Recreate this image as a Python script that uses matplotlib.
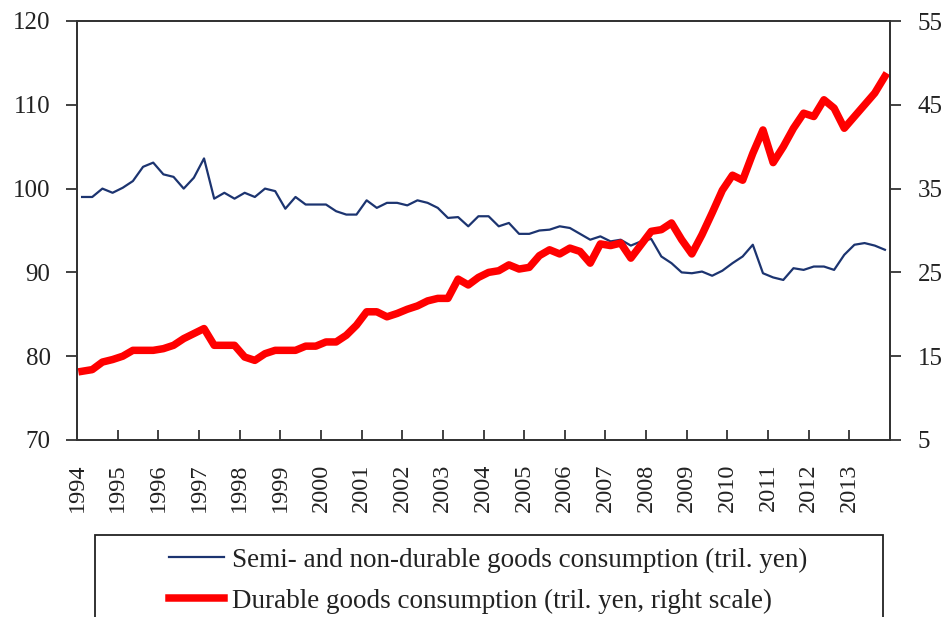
#!/usr/bin/env python3
# Japan: semi/non-durable vs durable goods consumption, quarterly 1994-2013
import numpy as np
import matplotlib; matplotlib.use("Agg")
import matplotlib.pyplot as plt
from matplotlib.patches import Rectangle

plt.rcParams["font.family"] = ["Liberation Serif", "DejaVu Serif"]

START, END = 1994, 2014
YEARS = list(range(1994, 2014))

# quarterly, 1994Q1 .. 2013Q4 (left scale)
NONDUR = [99.0, 99.0, 100.0, 99.5, 100.1, 100.9, 102.6, 103.1,
          101.7, 101.4, 100.0, 101.3, 103.6, 98.8, 99.5, 98.8,
          99.5, 99.0, 100.0, 99.7, 97.6, 99.0, 98.1, 98.1,
          98.1, 97.3, 96.9, 96.9, 98.6, 97.7, 98.3, 98.3,
          98.0, 98.6, 98.3, 97.7, 96.5, 96.6, 95.5, 96.7,
          96.7, 95.5, 95.9, 94.6, 94.6, 95.0, 95.1, 95.5,
          95.3, 94.6, 93.9, 94.3, 93.7, 93.9, 93.2, 93.7,
          94.0, 91.9, 91.1, 90.0, 89.9, 90.1, 89.6, 90.2,
          91.1, 91.9, 93.3, 89.9, 89.4, 89.1, 90.5, 90.3,
          90.7, 90.7, 90.3, 92.1, 93.3, 93.5, 93.2, 92.7]

# quarterly, 1994Q1 .. 2013Q4 (right scale)
DUR = [13.2, 13.4, 14.3, 14.6, 15.0, 15.7, 15.7, 15.7,
       15.9, 16.3, 17.1, 17.7, 18.3, 16.3, 16.3, 16.3,
       14.9, 14.5, 15.3, 15.7, 15.7, 15.7, 16.2, 16.2,
       16.7, 16.7, 17.5, 18.7, 20.3, 20.3, 19.7, 20.1,
       20.6, 21.0, 21.6, 21.9, 21.9, 24.2, 23.5, 24.4,
       25.0, 25.2, 25.9, 25.4, 25.6, 27.0, 27.7, 27.2,
       27.9, 27.5, 26.1, 28.4, 28.2, 28.5, 26.7, 28.3,
       29.9, 30.1, 30.9, 28.9, 27.2, 29.5, 32.1, 34.8,
       36.6, 36.0, 39.2, 42.0, 38.1, 40.0, 42.2, 44.0,
       43.6, 45.6, 44.6, 42.2, 43.6, 45.0, 46.4, 48.4]

LAB_ND = "Semi- and non-durable goods consumption (tril. yen)"
LAB_D = "Durable goods consumption (tril. yen, right scale)"
C_ND, C_D, INK = "#1c3470", "#ff0000", "#222222"

t = START + (np.arange(len(NONDUR)) + 0.5) / 4

W, H = 948, 617
fig = plt.figure(figsize=(W / 100, H / 100), dpi=100)
ax = fig.add_axes([77 / W, 1 - 440 / H, (890 - 77) / W, (440 - 21) / H])
ax2 = ax.twinx()

l1, = ax.plot(t, NONDUR, color=C_ND, lw=1.6)
l2, = ax2.plot(t, DUR, color=C_D, lw=5.4, solid_joinstyle="round")

ax.set_xlim(START, END)
ax.set_ylim(70, 120); ax.set_yticks(range(70, 121, 10))
ax2.set_ylim(5, 55); ax2.set_yticks(range(5, 56, 10))
ax.set_xticks(YEARS + [END])
ax.set_xticklabels([str(y) for y in YEARS] + [""])

for a in (ax, ax2):
    for s in a.spines.values():
        s.set_color("#333333"); s.set_linewidth(1.3)
ax.tick_params(axis="x", direction="in", length=7, width=1.3, color="#333333",
               pad=17, labelrotation=90, labelsize=17.5, labelcolor=INK)
ax.tick_params(axis="y", direction="out", length=8, width=1.3, color="#333333",
               pad=11, labelsize=18, labelcolor=INK)
ax2.tick_params(axis="y", direction="out", length=8, width=1.3, color="#333333",
                pad=12, labelsize=18, labelcolor=INK)

# legend box runs off the bottom of the figure, as in the source
fig.add_artist(Rectangle((95 / W, -0.05), 788 / W, 1 - 535 / H + 0.05,
                         transform=fig.transFigure, fill=False, ec=INK, lw=1.3,
                         clip_on=False))
fig.legend([l1, l2], [LAB_ND, LAB_D], loc="upper left",
           bbox_to_anchor=(145 / W, 1 - 523 / H), frameon=False, fontsize=19.5,
           handlelength=2.0, handletextpad=0.3, labelspacing=0.6,
           labelcolor=INK)

fig.savefig("out.png", dpi=100)
